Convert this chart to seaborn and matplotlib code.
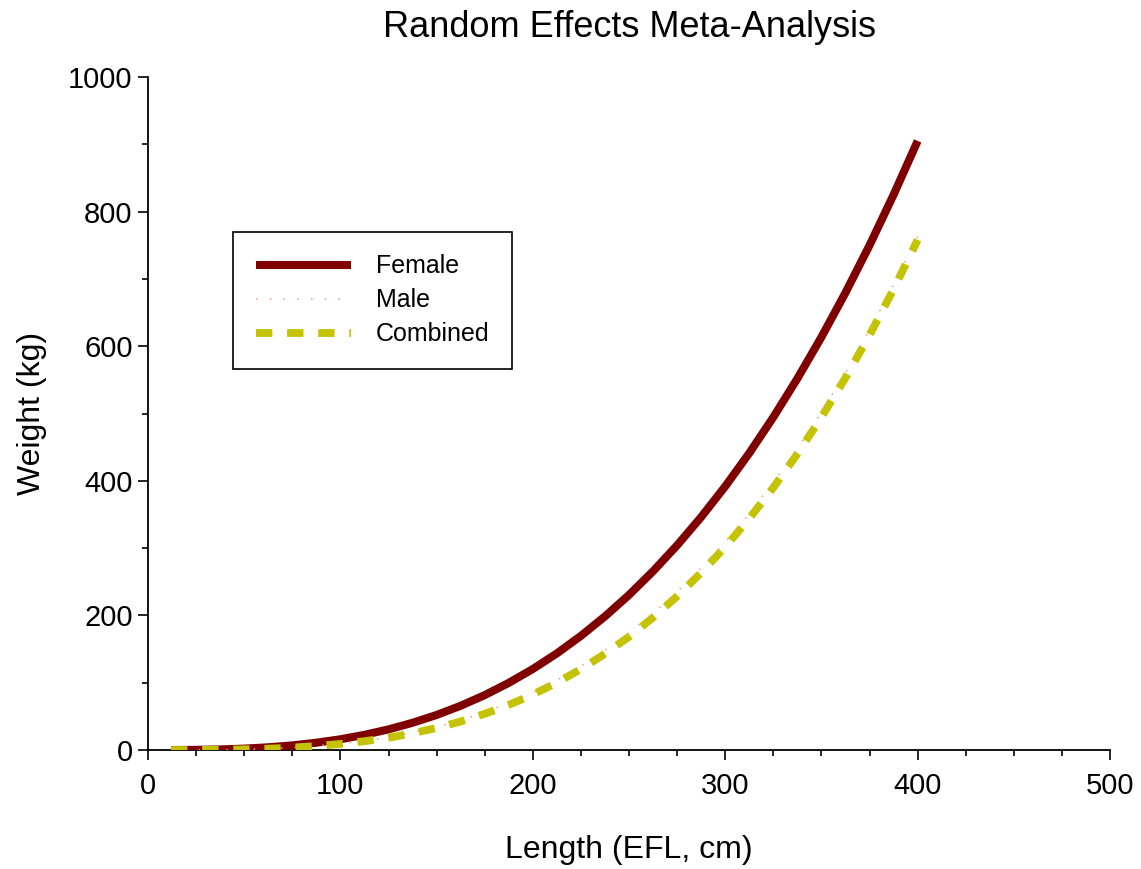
import pandas as pd
import matplotlib.pyplot as plt
import seaborn as sns

# Values
length = [12, 25, 37.5, 50, 62.5, 75, 87.5, 100, 112.5, 125, 137.5, 150, 162.5, 175, 187.5, 200,
          212.5, 225, 237.5, 250, 262.5, 275, 287.5, 300, 312.5, 325, 337.5, 350, 362.5, 375, 387.5, 400]
female = [0.03, 0.3, 0.92, 2.1, 4.1, 6.9, 10.9, 16.0, 22.6, 30.7, 40.5, 52.1, 65.8, 81.6, 99.8, 120.4,
          143.6, 169.6, 198.6, 230.5, 265.7, 304.2, 346.2, 391.8, 441.2, 494.6, 552.0, 613.6, 679.6, 750.0, 825.1, 905.0]
male = [0.01, 0.12, 0.42, 1.05, 2.15, 3.8, 6.3, 9.5, 13.8, 19.2, 26.1, 34.3, 44.3, 56.0, 69.8, 85.5,
        103.8, 124.5, 148.0, 174.0, 203.2, 235.0, 270.6, 309.0, 351.5, 398.0, 447.0, 502.0, 560.5, 624.0, 690.8, 763.0]
combined = [0.01, 0.11, 0.39, 0.98, 2.0, 3.6, 5.9, 9.0, 13.1, 18.3, 24.9, 32.8, 42.4, 53.8, 67.1, 82.5,
            100.1, 120.2, 143.0, 168.4, 196.9, 228.5, 263.5, 301.9, 344.0, 390.1, 440.1, 494.5, 553.2, 616.6, 684.8, 758.0]

df = pd.DataFrame({'length': length, 'Female': female, 'Male': male, 'Combined': combined})

sns.set_style('ticks')
plt.rcParams['font.family'] = ['Liberation Sans', 'DejaVu Sans']
plt.rcParams['text.color'] = 'black'
plt.rcParams['axes.labelcolor'] = 'black'

fig = plt.figure(figsize=(11.41, 8.69), dpi=100)
ax = fig.add_axes([0.1297, 0.1369, 0.8432, 0.7745])

sns.lineplot(data=df, x='length', y='Female', ax=ax, color='#800000', linewidth=5.8,
             solid_capstyle='butt', label='Female', zorder=3)
sns.lineplot(data=df, x='length', y='Combined', ax=ax, color='#c3c300', linewidth=5.6,
             linestyle=(0, (2.1, 1.9)), dash_capstyle='butt', label='Combined', zorder=4)
sns.lineplot(data=df, x='length', y='Male', ax=ax, color='#f0a070', linewidth=1.1,
             linestyle=(0, (1, 8)), label='Male', zorder=5)

ax.set_xlim(0, 500)
ax.set_ylim(0, 1000)
ax.set_xticks(range(0, 501, 100))
ax.set_xticks(range(0, 501, 25), minor=True)
ax.set_yticks(range(0, 1001, 200))
ax.set_yticks(range(0, 1001, 100), minor=True)
ax.tick_params(which='major', direction='out', length=7, width=1.2, labelsize=21,
               colors='black', labelcolor='black')
ax.tick_params(which='minor', direction='out', length=4, width=1.2, colors='black')
ax.tick_params(axis='x', which='major', pad=9)
ax.tick_params(axis='y', which='major', pad=4)
for side in ['top', 'right']:
    ax.spines[side].set_visible(False)
for side in ['left', 'bottom']:
    ax.spines[side].set_linewidth(1.3)
    ax.spines[side].set_color('black')

ax.set_xlabel('Length (EFL, cm)', fontsize=23, labelpad=25)
ax.set_ylabel('Weight (kg)', fontsize=23, labelpad=15)
ax.set_title('Random Effects Meta-Analysis', fontsize=26, pad=29)

handles, labels = ax.get_legend_handles_labels()
order = [labels.index(n) for n in ['Female', 'Male', 'Combined']]
leg = ax.legend([handles[i] for i in order], [labels[i] for i in order],
                loc='upper left', bbox_to_anchor=(0.0884, 0.7697), borderaxespad=0,
                fontsize=18, handlelength=3.8, handletextpad=1.0, borderpad=0.9, labelspacing=0.4,
                fancybox=False, frameon=True, edgecolor='black', framealpha=1)
leg.get_frame().set_linewidth(1.2)

plt.savefig('out.png', dpi=100)
